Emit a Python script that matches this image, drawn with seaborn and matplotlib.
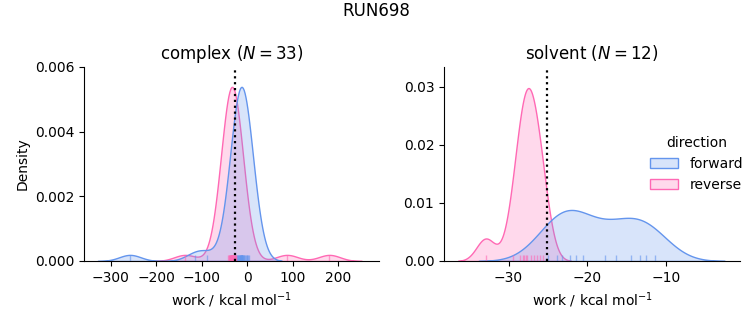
import numpy as np
import pandas as pd
import matplotlib
matplotlib.use("Agg")
import matplotlib.pyplot as plt
import seaborn as sns

title = "RUN698"
phases = ["complex", "solvent"]
n_pairs = [33, 12]
directions = ["forward", "reverse"]
colors = ["cornflowerblue", "hotpink"]
xlabel = "work / kcal mol$^{-1}$"

complex_forward = [-258, -115, -89,
                   -28, -26, -24, -22, -21, -20, -19, -18, -17, -16, -16, -15, -15,
                   -14, -14, -13, -13, -12, -12, -11, -10, -9, -8, -7, -6, -4, -2, 0, 2, 4]
complex_reverse = [-137, 87, 180,
                   -42, -41, -40, -39, -38, -38, -37, -37, -36, -36, -35, -35, -35, -34,
                   -34, -34, -33, -33, -33, -32, -32, -31, -31, -30, -29, -28, -27, -26, -25]
solvent_forward = [-25.0, -23.9, -23.2, -22.2, -21.4, -20.6, -17.7, -16.4, -14.5, -13.25, -12.5, -11.35]
solvent_reverse = [-32.9, -29.4, -28.6, -28.2, -28.0, -27.8, -27.6, -27.2, -26.8, -26.4, -26.0, -25.6]
estimates = [-27.0, -25.1]

frames = []
for phase, fw, rv in [("complex", complex_forward, complex_reverse),
                      ("solvent", solvent_forward, solvent_reverse)]:
    frames.append(pd.DataFrame({"work": fw, "direction": "forward", "phase": phase}))
    frames.append(pd.DataFrame({"work": rv, "direction": "reverse", "phase": phase}))
df = pd.concat(frames, ignore_index=True)

fig = plt.figure(figsize=(7.53, 3.25), dpi=100)
axes = [fig.add_axes([84/753, 1-261/325, 295/753, 194/325]),
        fig.add_axes([444/753, 1-261/325, 296/753, 194/325])]
palette = dict(zip(directions, colors))

xlims = [(-359, 289), (-38.2, -0.6)]
ylims = [(0, 0.006), (0, 0.0334)]

for i, (ax, phase) in enumerate(zip(axes, phases)):
    d = df.copy()
    # rows of the other phase keep their weight in the shared normalisation
    d["hue"] = np.where(d["phase"] == phase, d["direction"], "other")
    sns.kdeplot(data=d, x="work", hue="hue", hue_order=directions, palette=palette,
                fill=True, common_norm=True, ax=ax, legend=(i == 1), linewidth=1)
    own = df[df["phase"] == phase]
    sns.rugplot(data=own, x="work", hue="direction", hue_order=directions, palette=palette,
                ax=ax, legend=False, height=0.03, linewidth=1, alpha=0.6)
    ax.axvline(estimates[i], color="black", linestyle=":", linewidth=1.6)
    ax.set_xlim(*xlims[i])
    ax.set_ylim(*ylims[i])
    ax.set_title(f"{phase} ($N = {n_pairs[i]}$)", fontsize=12)
    ax.set_xlabel(xlabel)
    ax.set_ylabel("Density" if i == 0 else "")
    sns.despine(ax=ax)

axes[0].set_yticks([0, 0.002, 0.004, 0.006])
axes[1].set_yticks([0, 0.01, 0.02, 0.03])
sns.move_legend(axes[1], "upper left", bbox_to_anchor=(0.655, 0.71), frameon=False,
                title="direction")

fig.suptitle(title, fontsize=12, y=0.995)
fig.savefig("out.png", dpi=100)
